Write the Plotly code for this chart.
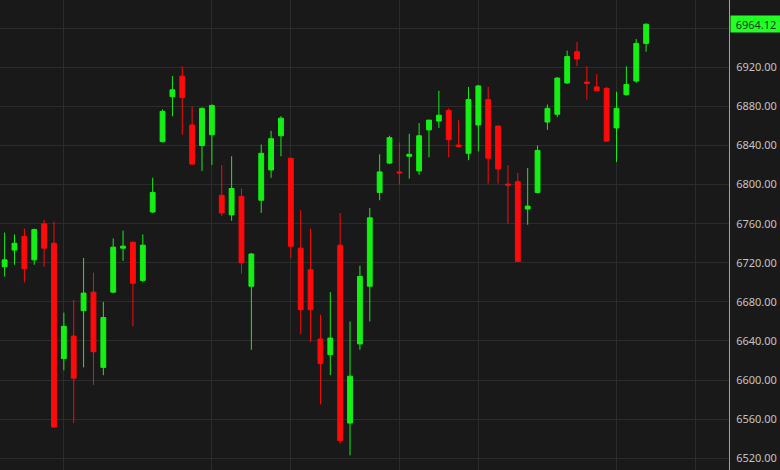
import plotly.graph_objects as go

opens = [6716, 6733, 6747, 6723, 6760, 6740, 6622, 6645, 6671, 6690,
         6613, 6690, 6735, 6741, 6702, 6772, 6844, 6890, 6911, 6861,
         6840, 6851, 6789, 6769, 6788, 6696, 6784, 6815, 6850, 6827,
         6735, 6713, 6642, 6626, 6738, 6556, 6637, 6696, 6792, 6822,
         6813, 6829, 6814, 6856, 6865, 6876, 6840.5, 6832, 6861, 6887,
         6860, 6800.5, 6803, 6775, 6792, 6864, 6872, 6904, 6936, 6905,
         6900, 6898.5, 6858, 6892, 6906, 6944.5]
highs = [6751, 6749, 6755, 6755, 6764, 6762, 6669, 6682, 6725, 6710,
         6680, 6745, 6753, 6742, 6749, 6807, 6877, 6911, 6921, 6880,
         6879, 6882, 6820, 6829, 6796, 6730, 6841, 6855, 6870, 6827,
         6774, 6755, 6667, 6690, 6771, 6660, 6717, 6776, 6831, 6850,
         6843, 6852, 6863, 6866, 6896, 6878, 6866, 6900, 6902, 6900,
         6860, 6820, 6812, 6817, 6840, 6882, 6910, 6937, 6946, 6921,
         6913, 6900, 6895, 6921, 6949, 6965]
lows = [6706, 6718, 6700, 6718, 6716, 6551, 6610, 6556, 6613, 6595,
        6605, 6689, 6722, 6655, 6700, 6771, 6843, 6870, 6851, 6820,
        6814, 6820, 6768, 6763, 6709, 6631, 6771, 6807, 6829, 6725,
        6647, 6639, 6575, 6605, 6535, 6523, 6631, 6660, 6784, 6821,
        6800, 6806, 6810, 6828, 6858, 6828, 6838, 6825, 6834, 6801,
        6801, 6760, 6721, 6759, 6791, 6856, 6869, 6903, 6921, 6887,
        6895, 6844, 6823, 6891, 6904, 6936]
closes = [6723, 6740, 6714, 6754, 6735, 6552, 6655, 6602, 6689, 6629,
          6664, 6736, 6737, 6699, 6738, 6792, 6875, 6897, 6889, 6821,
          6878, 6881, 6771, 6796, 6720, 6729, 6832, 6847, 6868, 6737,
          6672, 6672, 6617, 6643, 6538, 6604, 6706, 6766, 6813, 6848,
          6812, 6831, 6850, 6866, 6871, 6846, 6839, 6887, 6901, 6827,
          6816, 6799.5, 6721.5, 6778, 6835, 6878, 6909, 6931, 6928.5, 6903.5,
          6896, 6844.5, 6878, 6902.5, 6944.5, 6964.12]

x_idx = list(range(len(closes)))
grid_x = [6, 21, 29, 40, 48, 62, 70]
y_ticks = [6520, 6560, 6600, 6640, 6680, 6720, 6760, 6800, 6840, 6880, 6920, 6960]
y_text = [f"{v:.2f}" for v in y_ticks[:-1]] + [""]
last_price = closes[-1]

GREEN = "#14f014"
RED = "#ff0a0a"
BG = "#191919"
GRID = "#2c2c2c"

fig = go.Figure()
fig.add_trace(go.Candlestick(
    x=x_idx, open=opens, high=highs, low=lows, close=closes,
    increasing=dict(line=dict(color=GREEN, width=1), fillcolor=GREEN),
    decreasing=dict(line=dict(color=RED, width=1), fillcolor=RED),
    whiskerwidth=0, hoverinfo="skip", showlegend=False,
))

fig.add_annotation(
    x=1, xref="paper", y=last_price, yref="y",
    xanchor="left", yanchor="middle", xshift=1,
    text=f"{last_price:.2f}", showarrow=False,
    font=dict(family="Noto Sans, sans-serif", size=11, color="#1e3a1e"),
    bgcolor="#22ff22", borderpad=1, width=48, height=14, align="center",
)

fig.update_layout(
    width=780, height=470,
    margin=dict(l=0, r=51, t=0, b=0),
    paper_bgcolor=BG, plot_bgcolor=BG,
    font=dict(family="Noto Sans, sans-serif", size=11, color="#c4c4c4"),
    xaxis=dict(
        range=[-0.47, 73.4], rangeslider=dict(visible=False),
        tickvals=grid_x, showticklabels=False, showgrid=True,
        gridcolor=GRID, gridwidth=1, zeroline=False, showline=False, ticks="",
    ),
    yaxis=dict(
        side="right", range=[6508, 6988.9], tickvals=y_ticks, ticktext=y_text,
        showgrid=True, gridcolor=GRID, gridwidth=1, zeroline=False,
        showline=True, linecolor="#a0a0a0", linewidth=1,
        ticks="outside", ticklen=4, tickcolor=BG,
        tickfont=dict(size=11, color="#c4c4c4"),
    ),
)

fig.write_html(
    "out.html",
    config={"displayModeBar": False},
    post_script="document.body.style.margin='0';document.body.style.background='#191919';",
)
